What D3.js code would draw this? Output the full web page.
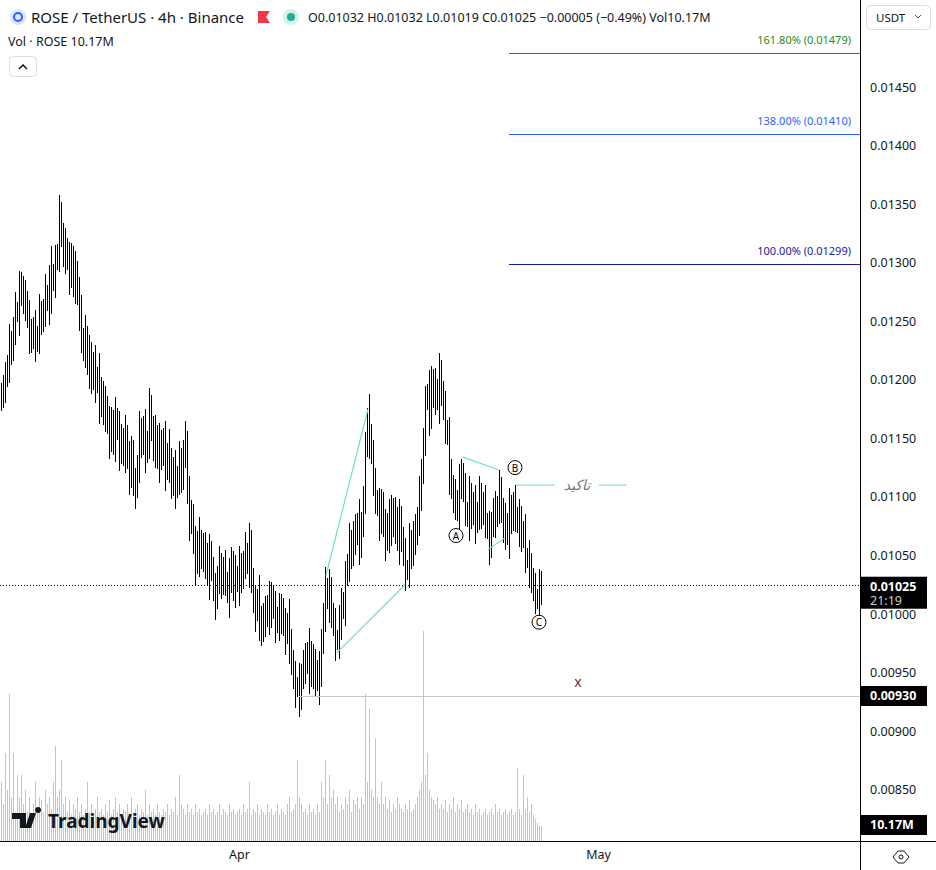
<!DOCTYPE html>
<html><head><meta charset="utf-8">
<script src="https://cdn.jsdelivr.net/npm/d3@7"></script>
<style>body{margin:0;background:#fff;font-family:"Noto Sans",Roboto,sans-serif}svg{display:block}</style>
</head><body><svg id="c" width="936" height="870"></svg>
<script>
// closes in 1e-5 USDT, one per 4h bar
const closes=[1185,1195,1200,1215,1230,1225,1245,1260,1255,1275,
1280,1265,1270,1250,1240,1235,1245,1230,1240,1255,
1250,1260,1275,1265,1280,1290,1285,1300,1310,1340,
1325,1305,1315,1300,1290,1305,1280,1295,1270,1260,
1235,1225,1240,1210,1220,1200,1215,1195,1205,1180,
1190,1170,1180,1160,1150,1165,1145,1170,1155,1140,
1150,1135,1155,1130,1120,1140,1110,1105,1130,1155,
1145,1160,1135,1150,1175,1160,1140,1155,1130,1145,
1135,1150,1120,1140,1130,1110,1125,1105,1120,1130,
1115,1140,1150,1100,1080,1085,1060,1040,1065,1050,
1060,1045,1055,1030,1050,1040,1020,1010,1035,1040,
1025,1040,1030,1015,1030,1045,1020,1035,1025,1040,
1030,1045,1055,1040,1060,1030,1010,1000,1015,995,
985,1000,995,1010,1000,1015,1005,990,1000,995,
1005,990,980,995,975,960,945,935,940,930,
945,960,955,970,950,965,945,955,940,950,
975,1000,1025,1010,1020,1000,990,975,980,990,
1010,1005,1030,1045,1060,1050,1070,1065,1080,1060,
1075,1100,1140,1170,1150,1140,1110,1100,1090,1080,
1095,1075,1060,1080,1070,1090,1075,1085,1060,1080,
1065,1050,1035,1040,1060,1050,1070,1065,1085,1100,
1120,1150,1180,1190,1170,1200,1185,1195,1180,1205,
1190,1175,1160,1150,1120,1110,1095,1100,1085,1110,
1120,1105,1090,1080,1100,1085,1095,1075,1090,1100,
1085,1095,1080,1070,1060,1075,1090,1080,1095,1105,
1090,1070,1080,1065,1090,1080,1095,1085,1075,1080,
1065,1070,1050,1045,1040,1030,1020,1015,1010,1020,1025];
// wick sizes (x3e-5) per bar
const wicks="4352643526435264352643526835264352643526435264352643526435264352643526435264352643526435264352643526435264352643526435264352643526435264352643526435264352643526435264352643526435264352643526435264352643526435264352643526435264352643526435264352643526435264352643526435264352643526";
// volume in millions per bar
const volumes=[40,25,60,35,100,30,60,20,45,30,45,25,35,20,30,18,25,40,22,30,
28,20,35,25,30,22,40,65,30,35,55,25,30,20,28,18,25,22,30,20,
25,18,22,40,20,25,18,22,30,20,22,18,25,20,28,18,22,30,20,25,
18,22,20,25,18,30,20,22,25,18,22,20,35,18,25,20,22,18,25,20,
18,22,20,25,18,22,20,30,18,45,25,22,18,25,20,22,18,25,20,22,
18,20,22,18,25,20,22,18,20,25,18,22,20,18,25,20,22,18,20,22,
18,25,20,22,40,18,22,20,25,18,22,20,18,25,20,22,18,20,25,18,
22,20,18,25,30,20,22,25,55,30,25,20,22,18,25,20,22,18,25,20,
40,30,55,25,45,30,35,25,30,20,25,22,30,25,35,20,28,25,30,22,
30,25,100,40,90,35,30,70,30,25,40,25,30,22,28,20,25,22,30,25,
22,20,25,22,28,20,22,25,30,35,40,143,45,60,35,30,28,25,30,22,
25,22,28,20,25,22,30,20,25,22,28,20,22,25,20,22,18,25,20,22,
18,20,22,18,20,22,18,25,20,22,18,20,22,18,20,22,18,20,50,22,
18,45,22,30,20,25,18,15,12,10,10];
const priceTicks=[0.0085,0.009,0.0095,0.01,0.0105,0.011,0.0115,0.012,0.0125,0.013,0.0135,0.014,0.0145];
const timeTicks=[{i:119,label:"Apr"},{i:298.5,label:"May"}];
const fibs=[{p:0.01479,label:"161.80% (0.01479)",color:"#1e8c1e"},{p:0.01410,label:"138.00% (0.01410)",color:"#2962ff"},{p:0.01299,label:"100.00% (0.01299)",color:"#1a1a9c"}];
const trendLines=[[162.5,0.01033,183.5,0.01175],[168,0.00967,202,0.01025],[231,0.01134,249,0.01123],[243.5,0.01055,252,0.01065]];
const waveLabels=[{i:227.5,p:0.01067,t:"A"},{i:257,p:0.01125,t:"B"},{i:269,p:0.00993,t:"C"}];

const svg=d3.select("#c");
const W=860,H=841;
const x=d3.scaleLinear().domain([0,1]).range([1,3]);
const y=d3.scaleLinear().domain([0.01,0.0145]).range([614,87]);
const yv=d3.scaleLinear().domain([0,143]).range([841,631]);
const xp=i=>Math.round(x(i))+0.5;
const g=svg.append("g").attr("shape-rendering","crispEdges");
g.selectAll(".v").data(volumes).join("line").attr("x1",(d,i)=>xp(i)).attr("x2",(d,i)=>xp(i))
 .attr("y1",841).attr("y2",d=>yv(d)).attr("stroke","#c4c4c4").attr("stroke-width",1);
const bars=closes.map((c,i)=>{const o=i?closes[i-1]:c;const w=+wicks[i%wicks.length]*3;return{o:o/1e5,c:c/1e5,h:(Math.max(o,c)+w)/1e5,l:(Math.min(o,c)-w)/1e5};});
g.selectAll(".b").data(bars).join("line").attr("x1",(d,i)=>xp(i)).attr("x2",(d,i)=>xp(i))
 .attr("y1",d=>y(d.h)).attr("y2",d=>y(d.l)).attr("stroke","#000").attr("stroke-width",1);
const last=bars[bars.length-1].c;
g.append("line").attr("x1",0).attr("x2",W).attr("y1",Math.round(y(last))+0.5).attr("y2",Math.round(y(last))+0.5).attr("stroke","#000").attr("stroke-dasharray","1,2");
g.append("line").attr("x1",x(149)).attr("x2",W).attr("y1",Math.round(y(0.0093))+0.5).attr("y2",Math.round(y(0.0093))+0.5).attr("stroke","#c8c8c8");
fibs.forEach(f=>{g.append("line").attr("x1",x(254)).attr("x2",W).attr("y1",Math.round(y(f.p))+0.5).attr("y2",Math.round(y(f.p))+0.5).attr("stroke",f.color);
 svg.append("text").attr("x",851).attr("y",y(f.p)-9).attr("text-anchor","end").attr("font-size",11).attr("fill",f.color).text(f.label);});
trendLines.forEach(t=>svg.append("line").attr("x1",x(t[0])).attr("y1",y(t[1])).attr("x2",x(t[2])).attr("y2",y(t[3])).attr("stroke","#6fe0c0").attr("stroke-width",1.2));
svg.append("line").attr("x1",x(257.5)).attr("x2",x(277)).attr("y1",y(0.0111)).attr("y2",y(0.0111)).attr("stroke","#6fe0c0");
svg.append("line").attr("x1",x(299)).attr("x2",x(313)).attr("y1",y(0.0111)).attr("y2",y(0.0111)).attr("stroke","#6fe0c0");
svg.append("text").attr("x",x(288)).attr("y",y(0.0111)+5).attr("text-anchor","middle").attr("font-size",14).attr("font-style","italic").attr("fill","#777").attr("font-family","DejaVu Sans").text("تاکید");
waveLabels.forEach(w=>{svg.append("circle").attr("cx",x(w.i)).attr("cy",y(w.p)).attr("r",7).attr("fill","#fff").attr("stroke","#000");
 svg.append("text").attr("x",x(w.i)).attr("y",y(w.p)+4).attr("text-anchor","middle").attr("font-size",10).text(w.t);});
svg.append("text").attr("x",x(288.5)).attr("y",y(0.00942)+5).attr("text-anchor","middle").attr("font-size",14).attr("fill","#7a1f1f").text("x");
svg.append("line").attr("x1",W+0.5).attr("x2",W+0.5).attr("y1",0).attr("y2",870).attr("stroke","#000");
svg.append("line").attr("x1",0).attr("x2",936).attr("y1",H+0.5).attr("y2",H+0.5).attr("stroke","#000");
const ya=svg.append("g").attr("transform",`translate(${W},0)`).call(d3.axisRight(y).tickValues(priceTicks).tickFormat(d3.format(".5f")).tickSize(0).tickPadding(10));
ya.select(".domain").remove();ya.selectAll("text").attr("font-size",12.5).attr("fill","#131722").attr("font-family","Noto Sans");
const xa=svg.append("g").attr("transform",`translate(0,${H})`).call(d3.axisBottom(x).tickValues(timeTicks.map(t=>t.i)).tickFormat((d,k)=>timeTicks[k].label).tickSize(0).tickPadding(9));
xa.select(".domain").remove();xa.selectAll("text").attr("font-size",12.5).attr("fill","#131722").attr("font-family","Noto Sans");
function box(yc,lines,h){svg.append("rect").attr("x",W+1).attr("y",yc-h/2).attr("width",66).attr("height",h).attr("fill","#000");
 lines.forEach((t,k)=>svg.append("text").attr("x",W+10).attr("y",yc-h/2+14+k*14).attr("font-size",12.5).attr("font-weight",k?400:700).attr("fill",k?"#ccc":"#fff").text(t));}
box(y(last)+8,["0.01025","21:19"],32);
box(y(0.0093),["0.00930"],20);
box(825,["10.17M"],20);
svg.append("circle").attr("cx",18).attr("cy",17).attr("r",8).attr("fill","#dbe6ff");
svg.append("circle").attr("cx",18).attr("cy",17).attr("r",4).attr("fill","none").attr("stroke","#2962ff").attr("stroke-width",2);
svg.append("text").attr("x",31).attr("y",23).attr("font-size",15).attr("fill","#131722").text("ROSE / TetherUS · 4h · Binance");
svg.append("path").attr("d","M258,11h12l-4,6l4,6h-12z").attr("fill","#f23645");
svg.append("circle").attr("cx",291).attr("cy",17).attr("r",8).attr("fill","#d2f1ea");
svg.append("circle").attr("cx",291).attr("cy",17).attr("r",4).attr("fill","#22ab94");
svg.append("text").attr("x",308).attr("y",22).attr("font-size",12.5).attr("fill","#131722").text("O0.01032 H0.01032 L0.01019 C0.01025 −0.00005 (−0.49%) Vol10.17M");
svg.append("text").attr("x",8).attr("y",46).attr("font-size",12.5).attr("fill","#131722").text("Vol · ROSE  10.17M");
svg.append("rect").attr("x",9.5).attr("y",56.5).attr("width",27).attr("height",20).attr("rx",4).attr("fill","#fff").attr("stroke","#ddd");
svg.append("path").attr("d","M19,69l4,-4l4,4").attr("fill","none").attr("stroke","#000").attr("stroke-width",1.3);
svg.append("rect").attr("x",866.5).attr("y",5.5).attr("width",64).attr("height",24).attr("rx",4).attr("fill","#fff").attr("stroke","#ddd");
svg.append("text").attr("x",876).attr("y",22).attr("font-size",11.5).attr("fill","#131722").text("USDT");
svg.append("path").attr("d","M915,15l3,3l3,-3").attr("fill","none").attr("stroke","#555");
svg.append("path").attr("d","M12,813h14v15h-6v-9h-8z M30,813l6,0l-5,15h-6z M38,813a3,3 0 1,1 0.1,0z").attr("fill","#131722");
svg.append("text").attr("x",48).attr("y",828).attr("font-size",19).attr("font-weight",700).attr("fill","#131722").text("TradingView");
svg.append("polygon").attr("points","898,851 893,857 898,863 904,863 909,857 904,851").attr("fill","none").attr("stroke","#131722");
svg.append("circle").attr("cx",901).attr("cy",857).attr("r",2).attr("fill","none").attr("stroke","#131722");
</script></body></html>
